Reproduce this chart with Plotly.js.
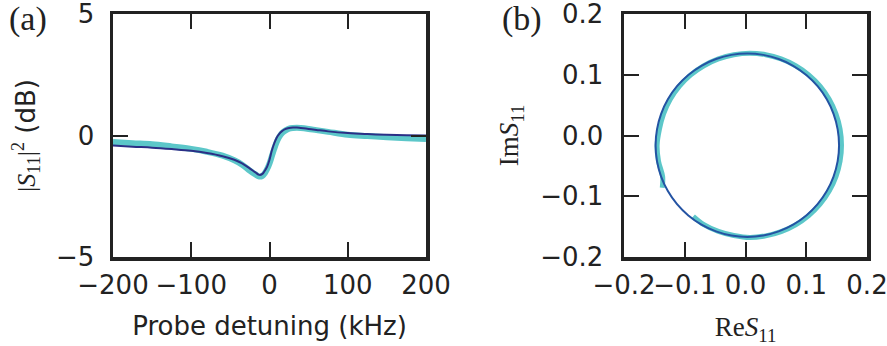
<!DOCTYPE html>
<html>
<head>
<meta charset="utf-8">
<script src="https://cdn.plot.ly/plotly-3.0.1.min.js"></script>
<style>html,body{margin:0;padding:0;background:#fff;}#chart{width:887px;height:346px;}</style>
</head>
<body>
<div id="chart"></div>
<script>
// Panel (a): |S11|^2 in dB vs probe detuning (kHz)
const detuning = [-200,-175,-150,-125,-100,-80,-60,-45,-35,-25,-18,-13,-9,-6,-3,0,3,6,9,12,16,20,25,30,35,40,50,60,75,100,125,150,175,200];
const dataDB = [-0.27,-0.32,-0.36,-0.45,-0.55,-0.67,-0.83,-1.02,-1.2,-1.45,-1.6,-1.69,-1.66,-1.55,-1.38,-1.15,-0.85,-0.55,-0.28,-0.08,0.1,0.2,0.28,0.31,0.32,0.31,0.27,0.22,0.15,0.03,-0.02,-0.07,-0.11,-0.14];
const fitDB  = [-0.41,-0.46,-0.5,-0.56,-0.63,-0.72,-0.85,-1.0,-1.15,-1.36,-1.52,-1.62,-1.58,-1.45,-1.28,-1.0,-0.62,-0.33,-0.1,0.05,0.18,0.26,0.31,0.33,0.33,0.31,0.27,0.23,0.17,0.1,0.06,0.03,0.01,0.0];

// Panel (b): complex S11 (real, imaginary)
const dataRe = [-0.086,-0.0685,-0.0446,-0.0192,0.007,0.0332,0.0586,0.0825,0.1041,0.1227,0.1378,0.1489,0.1557,0.158,0.1557,0.1489,0.1378,0.1227,0.1041,0.0825,0.0586,0.0332,0.007,-0.0192,-0.0446,-0.0685,-0.0901,-0.1087,-0.1238,-0.1349,-0.1417,-0.1455,-0.1432,-0.1364,-0.137];
const dataIm = [-0.133,-0.1468,-0.1579,-0.1647,-0.168,-0.1652,-0.1583,-0.147,-0.1318,-0.1131,-0.0915,-0.0676,-0.0422,-0.016,0.0102,0.0356,0.0595,0.0811,0.0997,0.1148,0.126,0.133,0.1355,0.133,0.126,0.1148,0.0997,0.0811,0.0595,0.0356,0.0102,-0.016,-0.0422,-0.0676,-0.086];
const fitRe = [0.154,0.1517,0.1449,0.1338,0.1187,0.1001,0.0785,0.0546,0.0292,0.003,-0.0232,-0.0486,-0.0725,-0.0941,-0.1127,-0.1278,-0.1389,-0.1457,-0.148,-0.1457,-0.1389,-0.1278,-0.1127,-0.0941,-0.0725,-0.0486,-0.0232,0.003,0.0292,0.0546,0.0785,0.1001,0.1187,0.1338,0.1449,0.1517,0.154];
const fitIm = [-0.016,0.0102,0.0356,0.0595,0.0811,0.0997,0.1148,0.1259,0.1327,0.135,0.1327,0.1259,0.1148,0.0997,0.0811,0.0595,0.0356,0.0102,-0.016,-0.0422,-0.0676,-0.0915,-0.1131,-0.1317,-0.1468,-0.1579,-0.1647,-0.167,-0.1647,-0.1579,-0.1468,-0.1317,-0.1131,-0.0915,-0.0676,-0.0422,-0.016];

const xTicksA = [-200,-100,0,100,200];
const yTicksA = [-5,0,5];
const ticksB = [-0.2,-0.1,0.0,0.1,0.2];

const CYAN = '#5cc7c9';
const NAVY_A = '#2b2f86';
const NAVY_B = '#2453a3';
const INK = '#222222';
const SANS = 'DejaVu Sans';
const SERIF = 'Liberation Serif';

const traces = [
  {x: detuning, y: dataDB, xaxis:'x', yaxis:'y', mode:'lines', line:{color:CYAN, width:6, shape:'spline'}, hoverinfo:'skip'},
  {x: detuning, y: fitDB, xaxis:'x', yaxis:'y', mode:'lines', line:{color:NAVY_A, width:2, shape:'spline'}, hoverinfo:'skip'},
  {x: dataRe, y: dataIm, xaxis:'x2', yaxis:'y2', mode:'lines', line:{color:CYAN, width:5, shape:'spline'}, hoverinfo:'skip'},
  {x: fitRe, y: fitIm, xaxis:'x2', yaxis:'y2', mode:'lines', line:{color:NAVY_B, width:2, shape:'spline'}, hoverinfo:'skip'}
];

function neg(s){ return s.replace('-', '\u2212'); }

function axisBase(extra){
  return Object.assign({
    showline:true, mirror:'ticks', linecolor:INK, linewidth:3.5,
    ticks:'inside', ticklen:15, tickwidth:2, tickcolor:INK,
    showgrid:false, zeroline:false, fixedrange:true, tickangle:0,
    ticklabeloverflow:'allow',
    tickfont:{family:SANS, size:26, color:INK}
  }, extra);
}

const layout = {
  width:887, height:346,
  margin:{l:0, r:0, t:14, b:89},
  paper_bgcolor:'#ffffff', plot_bgcolor:'#ffffff',
  showlegend:false,
  xaxis: axisBase({domain:[113/887, 426/887], range:[-200,200], tickvals:xTicksA, ticktext:xTicksA.map(v=>neg(String(v))), anchor:'y', ticklabelstandoff:2,
    title:{text:'Probe detuning (kHz)', font:{family:SANS, size:26, color:INK}, standoff:19}}),
  yaxis: axisBase({domain:[0,1], range:[-5,5], tickvals:yTicksA, ticktext:yTicksA.map(v=>neg(String(v))), anchor:'x', ticklabelstandoff:10,
    title:{text:"<span style=\"font-family:Liberation Serif\">|<i>S</i><sub>11</sub>|<sup>2</sup></span> (dB)", font:{family:SANS, size:26, color:INK}, standoff:14}}),
  xaxis2: axisBase({domain:[624/887, 867/887], range:[-0.2,0.2], tickvals:ticksB, ticktext:ticksB.map(v=>neg(v.toFixed(1))), anchor:'y2', ticklabelstandoff:2,
    title:{text:'Re<i>S</i><sub>11</sub>', font:{family:SERIF, size:27, color:INK}, standoff:24}}),
  yaxis2: axisBase({domain:[0,1], range:[-0.2,0.2], tickvals:ticksB, ticktext:ticksB.map(v=>neg(v.toFixed(1))), anchor:'x2', ticklabelstandoff:12,
    title:{text:'Im<i>S</i><sub>11</sub>', font:{family:SERIF, size:27, color:INK}, standoff:14}}),
  annotations:[
    {text:'(a)', xref:'paper', yref:'paper', x:7/887, y:1+16/243, xanchor:'left', yanchor:'top', showarrow:false, font:{family:SERIF, size:34, color:INK}},
    {text:'(b)', xref:'paper', yref:'paper', x:500/887, y:1+16/243, xanchor:'left', yanchor:'top', showarrow:false, font:{family:SERIF, size:34, color:INK}}
  ]
};

Plotly.newPlot('chart', traces, layout, {staticPlot:true, displayModeBar:false});
</script>
</body>
</html>
